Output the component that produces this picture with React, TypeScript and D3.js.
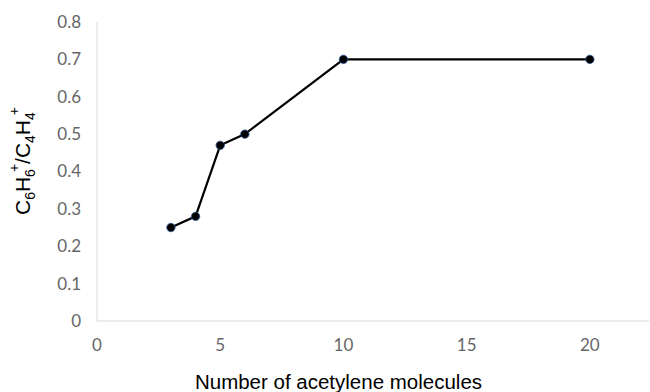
import React from "react";
import * as d3 from "d3";

const xValues = [3, 4, 5, 6, 10, 20];
const yValues = [0.25, 0.28, 0.47, 0.5, 0.7, 0.7];
const xTicks = [0, 5, 10, 15, 20];
const yTicks = [0, 0.1, 0.2, 0.3, 0.4, 0.5, 0.6, 0.7, 0.8];

export default function App() {
  const W = 650, H = 392;
  const x = d3.scaleLinear().domain([0, 22.4]).range([97, 649]);
  const y = d3.scaleLinear().domain([0, 0.8]).range([321, 22]);
  const pts = xValues.map((v, i) => [x(v), y(yValues[i])] as [number, number]);
  const line = d3.line()(pts) || "";
  const tickFont = "Lato, 'Open Sans', sans-serif";
  const labelFont = "'Liberation Sans', Arial, sans-serif";
  return (
    <svg width={W} height={H} style={{ position: "absolute", left: 0, top: 0, background: "#fff" }}>
      <line x1={x(0)} x2={x(0)} y1={y(0.8)} y2={y(0)} stroke="#d9d9d9" strokeWidth={1} />
      <line x1={x(0)} x2={649} y1={y(0)} y2={y(0)} stroke="#d9d9d9" strokeWidth={1} />
      {yTicks.map(t => (
        <text key={t} x={81} y={y(t)} dy="0.35em" textAnchor="end" fontSize={17} fill="#666" fontFamily={tickFont}>
          {t === 0 ? "0" : t.toFixed(1)}
        </text>
      ))}
      {xTicks.map(t => (
        <text key={t} x={x(t)} y={345.5} dy="0.35em" textAnchor="middle" fontSize={17} fill="#666" fontFamily={tickFont}>
          {t}
        </text>
      ))}
      <path d={line} fill="none" stroke="#000" strokeWidth={2.2} />
      {pts.map((p, i) => (
        <circle key={i} cx={p[0]} cy={p[1]} r={4.2} fill="#000" stroke="#2f5597" strokeWidth={0.8} />
      ))}
      <text x={338.5} y={389} textAnchor="middle" fontSize={20.5} fill="#000" fontFamily={labelFont}>
        Number of acetylene molecules
      </text>
      <g transform={`translate(30, 161) rotate(-90)`}>
        <text textAnchor="middle" fontSize={21} fill="#000" fontFamily={labelFont}>
          C<tspan fontSize={14} dy={5}>6</tspan>
          <tspan dy={-5}>H</tspan><tspan fontSize={14} dy={5}>6</tspan>
          <tspan fontSize={14} dx={-3} dy={-16}>+</tspan>
          <tspan dy={11}>/C</tspan><tspan fontSize={14} dy={5}>4</tspan>
          <tspan dy={-5}>H</tspan><tspan fontSize={14} dy={5}>4</tspan>
          <tspan fontSize={14} dx={-3} dy={-16}>+</tspan>
        </text>
      </g>
    </svg>
  );
}
